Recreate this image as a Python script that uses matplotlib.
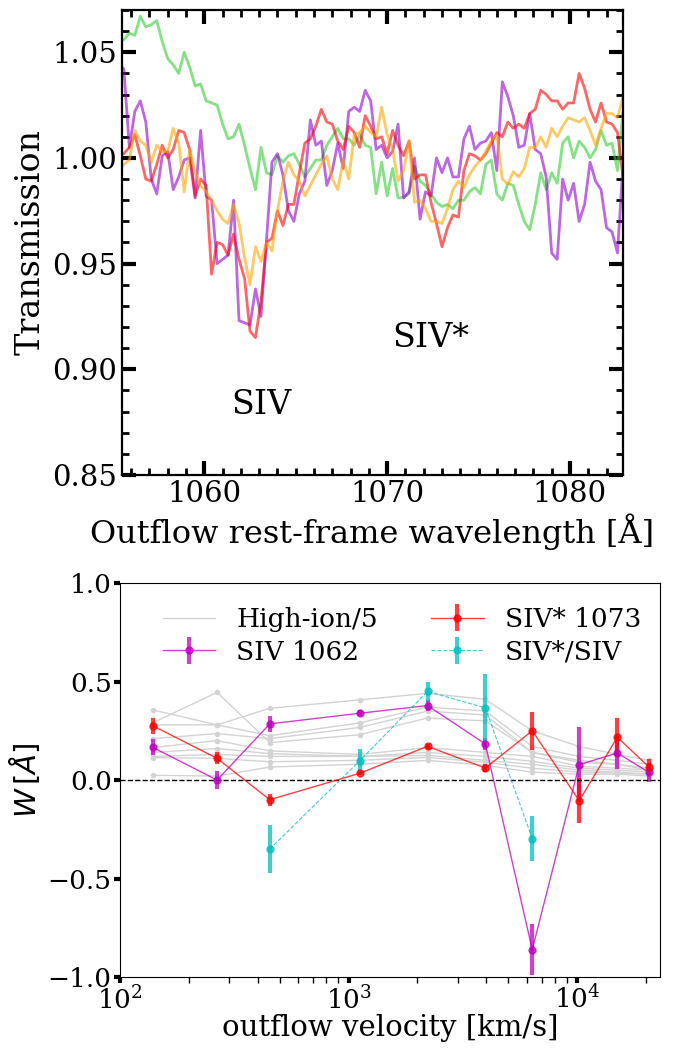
import numpy as np
import matplotlib
matplotlib.use('Agg')
import matplotlib.pyplot as plt
from matplotlib.ticker import MultipleLocator, FormatStrFormatter
from matplotlib.lines import Line2D

plt.rcParams['font.family'] = 'DejaVu Serif'

# --- spectra (rest-frame wavelength grid, 0.3 A sampling) ---
wave = np.linspace(1055.3, 1083.2, 94)

spec_green = [1.054, 1.056, 1.059, 1.058, 1.067, 1.062, 1.063, 1.065, 1.055, 1.047,
              1.044, 1.040, 1.050, 1.043, 1.034, 1.035, 1.027, 1.026, 1.025, 1.016,
              1.009, 1.010, 1.016, 1.006, 0.995,
              0.985, 1.005, 0.993, 0.992, 1.001, 0.998, 1.001, 1.002, 0.997, 0.991,
              0.995, 0.999, 0.999, 1.006, 1.010, 1.014, 1.009, 1.009, 1.006, 1.011,
              1.006, 1.005,
              0.983, 0.998, 0.982, 0.995, 0.981, 0.9815, 0.983, 0.996, 0.989, 0.987,
              0.983, 0.979, 0.977, 0.978, 0.976, 0.980, 0.980, 0.984, 0.986, 0.983,
              0.997, 0.999, 0.983,
              0.980, 0.988, 0.987, 0.978, 0.970, 0.966, 0.978, 0.993, 0.985, 0.993,
              0.988, 1.007, 1.010, 1.000, 1.008, 1.005, 1.000, 1.004, 1.013, 1.006,
              1.007, 0.994, 1.022, 1.030]

spec_purple = [1.045, 1.042, 1.005, 1.022, 1.027, 1.017, 0.990, 0.983, 1.001, 1.003,
               0.985, 0.991, 0.999, 1.000, 0.981, 1.013, 0.982, 0.980, 0.950, 0.952,
               0.954, 0.980, 0.923, 0.922, 0.921,
               0.938, 0.925, 0.961, 0.998, 1.002, 0.992, 0.975, 0.970, 0.983, 0.989,
               1.018, 1.006, 1.008, 0.987, 0.994, 1.007, 0.995, 1.022, 1.024, 1.022,
               1.032, 1.027,
               1.004, 1.006, 1.000, 1.003, 1.016, 0.981, 0.984, 1.000, 0.971, 0.984,
               0.982, 1.000, 0.993, 1.000, 0.991, 0.991, 1.009, 1.015, 1.004, 1.007,
               1.008, 1.012, 0.994,
               1.036, 1.029, 1.020, 1.005, 1.006, 1.021, 1.004, 1.002, 0.991, 0.955,
               0.952, 0.990, 0.980, 0.988, 0.970, 0.978, 0.998, 0.989, 0.985, 0.967,
               0.965, 0.955, 0.997, 1.010]

spec_red = [1.001, 1.002, 1.005, 1.011, 1.001, 0.990, 0.989, 0.997, 1.006, 1.000,
            1.004, 1.013, 1.012, 1.004, 0.982, 0.990, 0.987, 0.945, 0.960, 0.959,
            0.954, 0.964, 0.952, 0.943, 0.918,
            0.915, 0.932, 0.960, 0.962, 0.975, 0.968, 0.978, 0.978, 0.993, 1.007,
            1.009, 1.015, 1.023, 1.017, 1.016, 1.008, 1.004, 1.015, 1.012, 1.005,
            1.020, 1.015,
            1.009, 1.010, 1.002, 1.013, 1.006, 1.001, 1.008, 0.990, 0.992, 0.992,
            0.979, 0.969, 0.958, 0.967, 0.973, 0.972, 0.994, 1.002, 1.001, 0.999,
            1.002, 1.007, 1.012,
            1.010, 1.017, 1.014, 1.016, 1.014, 1.021, 1.023, 1.032, 1.030, 1.027,
            1.027, 1.023, 1.026, 1.026, 1.040, 1.033, 1.023, 1.017, 1.026, 1.017,
            1.016, 1.012, 0.991, 0.980]

spec_orange = [0.993, 0.997, 0.999, 1.013, 1.008, 1.006, 0.998, 1.006, 1.003, 1.003,
               1.014, 1.007, 0.984, 1.004, 0.993, 0.987, 0.984, 0.980, 0.975, 0.971,
               0.969, 0.978, 0.969, 0.953, 0.940,
               0.958, 0.951, 0.960, 0.956, 0.975, 0.989, 0.998, 0.992, 0.989, 0.982,
               0.987, 0.992, 0.997, 1.001, 0.990, 0.985, 0.999, 0.990, 1.011, 1.012,
               1.015, 1.012,
               1.010, 1.024, 1.011, 1.004, 0.989, 0.994, 1.008, 0.979, 0.980, 0.976,
               0.970, 0.970, 0.969, 0.976, 0.985, 0.989, 0.986, 0.992, 0.996, 0.999,
               1.003, 1.008, 1.011,
               0.990, 0.9875, 0.9935, 0.991, 0.995, 1.005, 1.005, 1.010, 1.005, 1.014,
               1.010, 1.015, 1.019, 1.018, 1.017, 1.019, 1.013, 1.006, 1.014, 1.021,
               1.021, 1.019, 1.029, 1.030]

# --- equivalent widths vs outflow velocity ---
vel = [139, 266, 452, 1117, 2213, 3963, 6355, 10200, 14960, 20600]

high_ion = [
    [0.29, 0.445, 0.19, 0.23, 0.315, 0.30, 0.14, 0.09, 0.08, 0.05],
    [0.356, 0.28, 0.364, 0.407, 0.44, 0.41, 0.25, 0.17, 0.13, 0.10],
    [0.28, 0.28, 0.225, 0.29, 0.37, 0.35, 0.17, 0.12, 0.10, 0.08],
    [0.21, 0.236, 0.21, 0.267, 0.35, 0.33, 0.14, 0.10, 0.08, 0.06],
    [0.165, 0.20, 0.148, 0.13, 0.165, 0.14, 0.12, 0.07, 0.06, 0.05],
    [0.14, 0.16, 0.134, 0.12, 0.14, 0.12, 0.095, 0.06, 0.05, 0.04],
    [0.12, 0.13, 0.12, 0.12, 0.125, 0.10, 0.08, 0.05, 0.04, 0.03],
    [0.114, 0.11, 0.093, 0.10, 0.115, 0.09, 0.06, 0.04, 0.035, 0.03],
    [0.024, 0.02, 0.066, 0.08, 0.10, 0.075, 0.04, 0.03, 0.03, 0.02],
]

siv = [0.166, 0.0, 0.285, 0.339, 0.378, 0.183, -0.861, 0.078, 0.137, 0.039]
siv_err = [0.04, 0.047, 0.04, 0.015, 0.03, 0.03, 0.13, 0.19, 0.08, 0.05]

sivs = [0.276, 0.11, -0.10, 0.034, 0.171, 0.061, 0.25, -0.105, 0.217, 0.066]
sivs_err = [0.04, 0.03, 0.03, 0.01, 0.012, 0.02, 0.095, 0.115, 0.10, 0.04]

ratio_vel = [452, 1117, 2213, 3963, 6355]
ratio = [-0.35, 0.097, 0.45, 0.366, -0.297]
ratio_err = [0.12, 0.06, 0.05, 0.17, 0.116]

fig = plt.figure(figsize=(6.84, 10.49), dpi=100)

# top panel: spectra around SIV / SIV*
ax1 = fig.add_axes([0.1784, 0.5472, 0.7324, 0.4433])
ax1.plot(wave, spec_green, color='limegreen', alpha=0.6, lw=2)
ax1.plot(wave, spec_purple, color='darkviolet', alpha=0.6, lw=2)
ax1.plot(wave, spec_red, color='red', alpha=0.6, lw=2)
ax1.plot(wave, spec_orange, color='orange', alpha=0.6, lw=2)
ax1.set_xlim(1055.5, 1082.9)
ax1.set_ylim(0.85, 1.07)
ax1.xaxis.set_major_locator(MultipleLocator(10))
ax1.xaxis.set_minor_locator(MultipleLocator(1))
ax1.yaxis.set_major_locator(MultipleLocator(0.05))
ax1.yaxis.set_minor_locator(MultipleLocator(0.01))
ax1.yaxis.set_major_formatter(FormatStrFormatter('%.2f'))
ax1.tick_params(which='both', direction='in', top=True, right=True, labelsize=21)
ax1.tick_params(which='major', length=10, width=3)
ax1.tick_params(which='minor', length=5, width=2)
for s in ax1.spines.values():
    s.set_linewidth(1.6)
ax1.text(1061.5, 0.883, 'SIV', fontsize=24, ha='left', va='center')
ax1.text(1070.3, 0.915, 'SIV*', fontsize=24, ha='left', va='center')
ax1.set_xlabel('Outflow rest-frame wavelength [Å]', fontsize=23)
ax1.set_ylabel('Transmission', fontsize=24)

# bottom panel: equivalent widths
ax2 = fig.add_axes([0.1754, 0.0686, 0.7895, 0.3756])
for g in high_ion:
    ax2.plot(vel, g, color='lightgray', lw=1, marker='o', ms=3)
eb_siv = ax2.errorbar(vel, siv, yerr=siv_err, color='m', alpha=0.75, lw=1, marker='o',
                      ms=5, elinewidth=3, capsize=0)
eb_sivs = ax2.errorbar(vel, sivs, yerr=sivs_err, color='red', alpha=0.75, lw=1, marker='o',
                       ms=5, elinewidth=3, capsize=0)
eb_ratio = ax2.errorbar(ratio_vel, ratio, yerr=ratio_err, color='c', alpha=0.75, lw=0.8,
                        ls='--', marker='o', ms=5, elinewidth=3, capsize=0)
ax2.axhline(0, color='k', ls='--', lw=1)
ax2.set_xscale('log')
ax2.set_xlim(100, 23000)
ax2.set_ylim(-1, 1)
ax2.yaxis.set_major_locator(MultipleLocator(0.5))
ax2.tick_params(which='major', labelsize=19, width=3, length=4, pad=2)
ax2.tick_params(which='minor', width=1, length=4)
ax2.set_xlabel('outflow velocity [km/s]', fontsize=21, labelpad=0)
ax2.set_ylabel(r'$W\,[\AA]$', fontsize=21)

gray_handle = Line2D([], [], color='lightgray', lw=1)
ax2.legend([gray_handle, eb_siv, eb_sivs, eb_ratio],
           ['High-ion/5', 'SIV 1062', 'SIV* 1073', 'SIV*/SIV'],
           ncol=2, frameon=False, fontsize=19, loc='upper center',
           columnspacing=2.0, handlelength=2.0, labelspacing=0.3,
           bbox_to_anchor=(0.522, 1.0))

fig.savefig('out.png', dpi=100)
